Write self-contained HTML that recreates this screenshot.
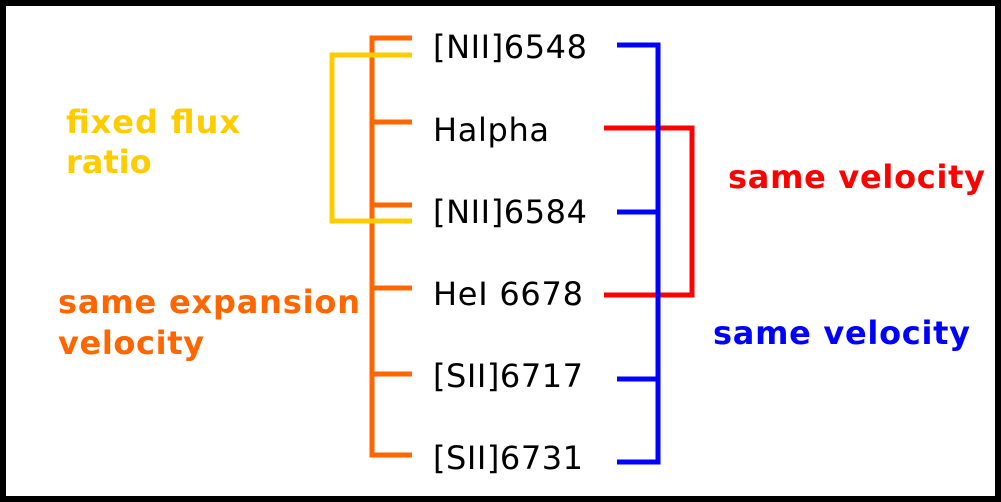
<!DOCTYPE html>
<html><head><style>html,body{margin:0;padding:0;background:#fff}svg{display:block}</style></head>
<body>
<svg width="1001" height="502" viewBox="0 0 1001 502" xmlns="http://www.w3.org/2000/svg" font-family="DejaVu Sans, Liberation Sans, sans-serif">
<rect x="3" y="3" width="995" height="496" fill="#fff" stroke="#000" stroke-width="6"/>
<g fill="none" stroke-width="5">
<path d="M412 38H372V455H412M372 122H412M372 205H412M372 288H412M372 374H412" stroke="#ff6600"/>
<path d="M412 55H332V221H412" stroke="#ffcc00"/>
<path d="M604 128H692V295H604" stroke="#ff0000"/>
<path d="M617 45H658V462H617M617 212H658M617 379H658" stroke="#0000ff"/>
</g>
<g font-size="32" fill="#000">
<text x="433" y="58" textLength="154">[NII]6548</text>
<text x="433" y="141" textLength="116">Halpha</text>
<text x="433" y="223" textLength="154">[NII]6584</text>
<text x="433" y="305" textLength="150">HeI 6678</text>
<text x="433" y="387" textLength="150">[SII]6717</text>
<text x="433" y="469" textLength="150">[SII]6731</text>
</g>
<g font-size="32" font-weight="bold">
<text x="66" y="133" fill="#ffcc00" textLength="174">fixed flux</text>
<text x="66" y="173" fill="#ffcc00">ratio</text>
<text x="58" y="313" fill="#ff6600" textLength="302">same expansion</text>
<text x="58" y="354" fill="#ff6600" textLength="146">velocity</text>
<text x="728" y="188" fill="#ff0000" textLength="257">same velocity</text>
<text x="713" y="344" fill="#0000ff" textLength="257">same velocity</text>
</g>
</svg>
</body></html>
